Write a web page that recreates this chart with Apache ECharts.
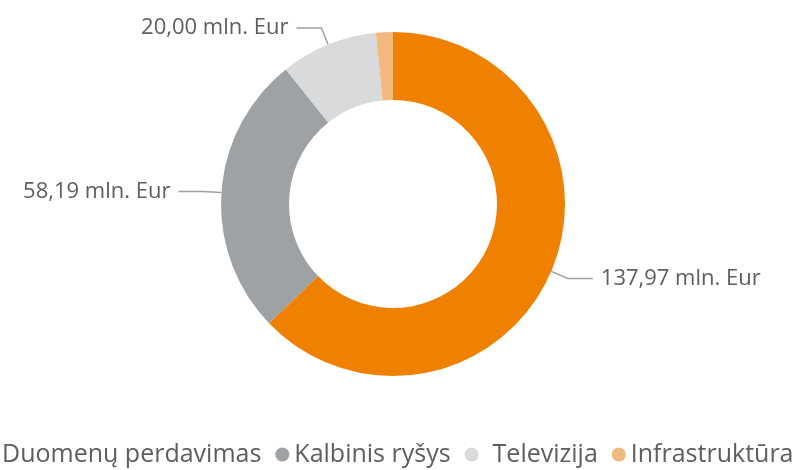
<!DOCTYPE html>
<html>
<head>
<meta charset="utf-8">
<script src="https://cdn.jsdelivr.net/npm/echarts@6/dist/echarts.min.js"></script>
<style>
html, body { margin: 0; padding: 0; background: #fff; }
#chart { width: 801px; height: 470px; }
</style>
</head>
<body>
<div id="chart"></div>
<script>
const categories = ['Duomenų perdavimas', 'Kalbinis ryšys', 'Televizija', 'Infrastruktūra']
const values = [137.97, 58.19, 20.00, 3.5]
const showLabel = [true, true, true, false]
const colors = ['#F08000', '#9EA2A5', '#D9DADB', '#F2B97E']

const myChart = echarts.init(document.getElementById('chart'))
const option = {
    animation: false,
    color: colors,
    legend: {
        data: categories.map((name) => ({
            name: name,
            // a little more room after the Televizija marker, as in the original
            textStyle: name === 'Televizija' ? { padding: [0, 0, 0, 9] } : {}
        })),
        left: -22,
        top: 437,
        width: 900,
        icon: 'circle',
        itemWidth: 14,
        itemHeight: 14,
        itemGap: 14,
        textStyle: {
            fontFamily: 'Open Sans',
            fontSize: 25,
            color: '#605e5c'
        }
    },
    series: [
        {
            type: 'pie',
            center: [393, 204],
            radius: [104, 172],
            startAngle: 90,
            clockwise: true,
            label: {
                show: true,
                fontFamily: 'Open Sans',
                fontSize: 22,
                color: '#605e5c',
                distanceToLabelLine: 8,
                formatter: (p) => p.value.toFixed(2).replace('.', ',') + ' mln. Eur'
            },
            labelLine: {
                length: 18,
                length2: 25,
                lineStyle: { color: '#a0a0a0', width: 1.5 }
            },
            data: categories.map((name, i) => ({
                name: name,
                value: values[i],
                label: { show: showLabel[i] },
                labelLine: { show: showLabel[i] }
            }))
        }
    ]
}
myChart.setOption(option)
</script>
</body>
</html>
